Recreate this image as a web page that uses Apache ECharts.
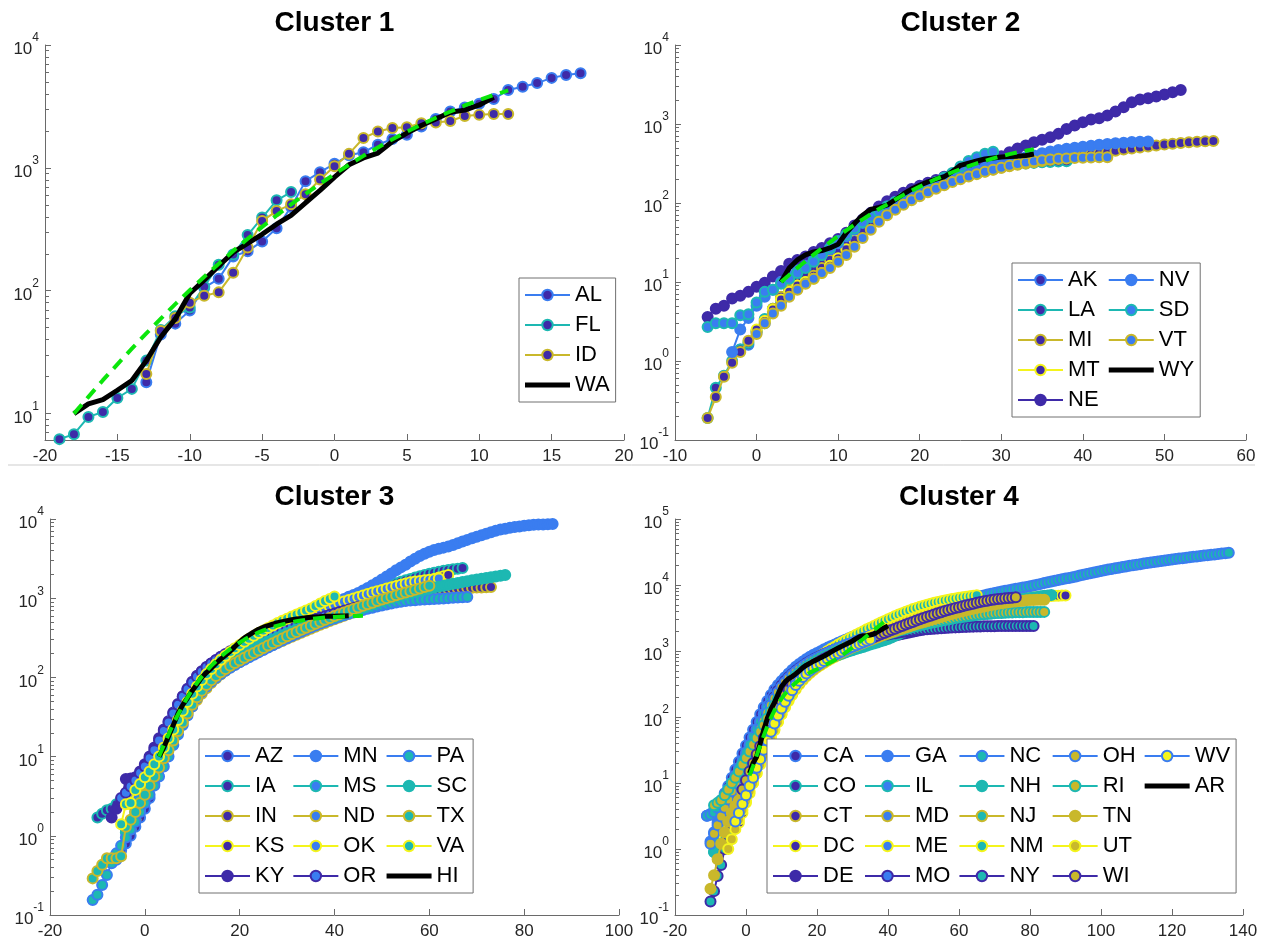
<!DOCTYPE html>
<html><head><meta charset="utf-8">
<script src="https://cdn.jsdelivr.net/npm/echarts@6/dist/echarts.min.js"></script>
<style>html,body{margin:0;padding:0;background:#fff}#c{width:1262px;height:945px}</style>
</head><body><div id="c"></div>
<script>
// ---------------- DATA ----------------
// Cluster 1
const p1Names=['AL','FL','ID'];
const p1Start=[-13,-19,-13];
const p1AL=[18,44,54,69,106,125,190,210,252,322,480,780,923,1080,1266,1340,1543,1718,1860,2175,2500,2880,3095,3330,3640,4300,4580,4900,5400,5700,5900];
const p1FL=[6.2,6.8,9.4,10.3,13.4,15.9,27,48,62,73,108,163,197,284,394,544,636];
const p1ID=[21,47,60,80,91,97,140,225,370,445,505,610,805,1030,1300,1750,1980,2110,2140,2310,2340,2410,2640,2700,2750,2750];
const p1MeanName='WA', p1MeanStart=-18;
const p1WA=[10,12,13,15.5,18.6,27,42,59,95,122,159,205,243,288,348,411,520,655,840,1060,1205,1320,1640,1920,2215,2500,2840,2950,3250,3750];
const p1FitStart=-18;
const p1Fit=[10,13.7,18.7,25.2,33.8,45,59.3,77.8,101,130,166,211,265,331,410,504,614,743,891,1060,1253,1468,1708,1968,2250,2557,2877,3219,3565,3917,4266];

// Cluster 2
const p2Names=['AK','LA','MI','MT','NE','NV','SD','VT'];
const p2Start=[-2,-6,-6,0,-6,-3,-6,0];
const p2AK=[1.4,1.6,2.3,3.0,4.2,5.5,7.5,10,13,16,19,21,22,35,48,60,72,84,96,108,120,135,150,165,180,195,210,225,240,255,270,283,295,305,315,322,328,333,337,340];
const p2LA=[0.19,0.46,0.65,1.0,1.4,1.7,2.4,3.4,4.6,6.2,8,10,12,14,17,21,26,32,40,50,60,72,85,100,115,130,145,160,175,190,205,220,235,250,265,280,292,302,310,316,322,327,331,334,337];
const p2MI=[0.19,0.35,0.63,0.95,1.3,1.8,2.4,3.2,4.6,6.5,8,9,10,12,15,19,24,30,38,47,57,68,80,92,105,118,131,145,160,175,190,205,220,235,250,265,280,292,304,316,328,340,352,364,376,388,400,415,430,445,460,475,490,505,520,535,550,563,575,587,597,605,610];
const p2MT=[2.5,3.2,4.5,6,7.5,9,10,11,13,16,20,26,34,44,56,70,85,100,115,130,145,160,175,190,205,220,240,260,280,300,315,325,335];
const p2NE=[3.6,4.6,5.0,6.2,6.7,7.5,8.7,9.8,11.7,13.8,17,19,21,24,27,31,35,42,52,62,75,90,105,120,135,150,165,180,195,215,235,255,280,305,330,360,390,440,490,535,589,631,681,750,867,955,1054,1138,1183,1279,1437,1631,1887,2039,2118,2223,2357,2521,2700];
const p2NV=[1.3,2.5,3.5,5,6.5,8,10,12,14,16,19,22,26,31,38,46,56,66,78,90,103,116,130,145,160,175,190,205,220,240,260,280,300,320,340,360,380,400,425,450,470,485,500,515,530,545,558,570,580,590,595,600];
const p2SD=[2.7,3.0,3.0,3.0,3.8,3.9,5.5,7.5,8.0,9.5,11,13,15,18,22,27,33,40,48,57,67,78,90,103,117,132,148,165,185,210,240,290,340,380,420,447];
const p2VT=[2.2,3,4,5,6.5,8,9.5,11,13,15,18,22,28,36,46,58,70,82,95,108,122,137,152,168,184,200,216,232,248,264,280,296,312,326,338,348,356,362,367,371,374,377,379,380];
const p2MeanName='WY', p2MeanStart=3;
const p2WY=[10,15,19,22,24,25,27,30,42,55,70,83,88,94,110,130,150,168,185,200,215,250,300,320,340,360,372,382,387,392,400,417];
const p2FitStart=3;
const p2Fit=[10,12.3,15.1,18.3,22.2,26.7,31.9,38.1,45,53,62,72,84,96,111,126,143,161,180,201,222,245,269,293,318,342,367,392,415,438,459,479];

// Cluster 3
const p3Names=['AZ','IA','IN','KS','KY','MN','MS','ND','OK','OR','PA','SC','TX','VA'];
const p3Start=[-6,-10,-3,-2,-7,-3,-4,-2,-3,-5,-11,-4,-11,-5];
const p3AZ=[0.5,0.65,0.8,1.0,1.3,1.7,2.2,3.0,4.5,7,11,16,22,30,40,52,65,80,95,110,125,140,155,170,185,200,215,230,250,270,290,310,330,350,370,390,410,430,455,480,505,530,560,590,620,650,680,710,740,770,800,830,860,900,940,980,1020];
const p3IA=[1.7,1.9,2.1,2.2,2.5,2.9,3.4,4.0,4.8,5.8,7,8.5,10,12,15,19,24,30,38,48,60,72,85,98,112,126,140,155,170,185,200,215,230,248,266,285,305,325,348,372,398,425,455,485,520,555,590,630,670,715,760,810,860,910,960,1010,1070,1130,1190,1260,1330,1400,1470,1540,1610,1680,1750,1820,1890,1960,2030,2100,2160,2220,2270,2320,2360,2400];
const p3IN=[1.2,1.6,2.2,3.0,4.2,6,9,13,18,24,31,39,48,58,69,80,92,104,116,128,140,152,164,176,188,200,213,226,240,255,270,286,303,321,340,360,381,403,426,450,480,510,540,570,600,635,670,705,740,770,800,850,900,950,1000,1050,1100,1140,1170,1190,1210,1225,1240,1255,1270,1285,1300,1310,1320,1330,1340,1350,1355,1360,1365,1372,1380];
const p3KS=[1.6,2.2,3.0,4.0,5.5,7.5,10,14,19,26,34,44,55,67,80,94,108,122,136,150,165,180,196,213,231,250,270,290,312,335,360,385,412,440,470,500,530,560,590,620,650,680,710,740,770,800,835,870,905,940,980,1020,1060,1110,1160,1210,1270,1330,1400,1470,1540,1610,1680,1750,1820,1890,1960];
const p3KY=[1.7,2.2,2.7,5.2,5.3,5.5,6.5,8,10,13,17,22,28,36,46,58,72,88,105,120,135,150,165,180,195,210,225,240,255,270,290,310,330,350,370,390,410,430,455,480,510,540,570];
const p3MN=[1.2,1.6,2.2,3.2,5,8,12,17,24,32,42,55,70,85,100,115,130,145,160,175,190,210,230,250,270,290,310,330,350,370,390,410,430,450,470,500,530,560,600,640,690,740,800,860,920,980,1040,1100,1160,1250,1350,1460,1580,1720,1880,2050,2250,2450,2650,2900,3150,3400,3650,3850,4050,4200,4350,4500,4700,4950,5200,5450,5700,5950,6250,6500,6800,7100,7350,7550,7750,7900,8050,8200,8350,8450,8500,8550,8600,8650];
const p3MS=[1.1,1.4,1.8,2.4,3.2,4.3,5.7,7.5,10,13,17,22,29,37,47,58,70,83,97,111,125,140,155,170,186,202,219,237,256,276,297,319,342,366,391,417,444,472,501,531,562,594,627,661,696,732,769,807,846,886,927,969,1012,1056,1101,1147,1194,1242,1291,1340];
const p3ND=[2.0,2.6,3.4,4.5,6,8,10,13,17,22,28,35,43,52,62,73,85,97,109,121,133,145,157,170,183,196,210,225,240,256,272,289,307,326,346,367,389,412,436,461,487,514,542,571,601,632,664,697,731,766,802,839,877,916,956,997,1039,1082,1126,1170];
const p3OK=[2.5,3.2,4.0,5.2,6.8,9,12,16,21,28,36,46,58,72,87,103,119,135,151,167,184,201,219,238,258,279,301,324,348,373,399,426,454,483,513,544,576,609,643,678,714,751,789,828,868,909,951,994,1038,1083,1129,1176,1224,1273,1323,1374,1426,1479,1533,1588,1620,1650,1680,1710,1740,1770];
const p3OR=[3.0,3.5,4.2,5.0,6.2,7.5,9.5,12,16,21,27,35,45,57,71,86,102,118,134,150,166,182,198,214,230,246,262,278,294,310,327,344,362,380,399,418,438,458,479,500,522,545,568,592,617,642,668,695,722,750,780];
const p3PA=[0.155,0.18,0.24,0.32,0.45,0.6,0.75,0.95,1.2,1.5,2.0,2.6,3.3,4.3,5.6,7.5,10,14,19,25,33,43,55,66,77,88,99,110,121,132,143,155,167,180,193,207,222,238,255,273,292,312,333,355,378,402,427,452,478,504,530,556,582,608,634,660,685,710,735,760,785,810,835,860,885,905,920,932,943,953,962,970,978,986,994,1002,1010,1018,1026,1035];
const p3SC=[1.2,1.5,2.0,2.7,3.6,4.8,6.3,8.3,11,14,19,25,33,43,55,68,82,96,110,124,138,152,166,180,195,210,225,240,255,270,285,300,320,340,360,380,400,420,440,460,480,505,530,555,580,610,640,670,700,730,760,800,840,880,920,960,1000,1040,1080,1120,1160,1200,1240,1280,1320,1360,1400,1440,1480,1520,1560,1600,1640,1680,1720,1760,1800,1840,1880,1920,1960];
const p3TX=[0.29,0.36,0.43,0.52,0.52,0.52,0.55,1.3,1.6,2.0,2.6,3.3,4.3,5.6,7.3,9.5,12,16,21,27,35,45,56,68,80,92,104,116,128,140,152,164,177,190,204,219,235,252,270,289,309,330,352,375,399,424,450,477,505,534,564,595,627,660,694,729,765,802,840,879,919,960,1002,1045,1089,1134,1180,1227,1275,1324,1380,1440];
const p3VA=[1.4,2.5,2.6,3.8,4.5,5.5,6.5,8,10,13,17,22,29,38,49,62,77,93,110,128,147,167,188,210,233,257,282,308,335,363,392,422,453,485,518,552,587,623,660,698,740,800,860,920,980,1050];
const p3MeanName='HI', p3MeanStart=3;
const p3HI=[10,13,18,25,35,45,55,68,82,100,115,130,150,170,190,215,245,280,315,345,375,405,430,450,470,490,505,520,535,545,555,565,575,580,585,590,590,590,595,595,600];
const p3FitStart=3;
const p3Fit=[10,14,19,26,34,44,56,70,85,102,120,140,160,182,205,228,252,276,300,324,347,370,392,412,432,450,467,483,498,512,524,535,545,554,562,569,575,580,585,589,592,595,597,600];

// Cluster 4
const p4Names=['CA','CO','CT','DC','DE','GA','IL','MD','ME','MO','NC','NH','NJ','NM','NY','OH','RI','TN','UT','WI','WV'];
const p4Start=[-11,-8,-7,-2,-5,-10,-9,-7,-6,-4,-11,-9,-6,-6,-10,-10,-9,-10,-5,-1,-3];
const p4CA=[3.2,3.4,3.8,4.5,5.5,7,9,12,16,21,28,37,49,64,84,110,140,175,215,260,305,350,400,450,500,550,600,650,700,750,800,850,900,950,1000,1060,1120,1180,1240,1300,1360,1420,1490,1560,1630,1700,1780,1860,1940,2020,2100,2190,2280,2370,2460,2550,2650,2750,2850,2950,3050,3150,3250,3350,3450,3550,3650,3750,3850,3950];
const p4CO=[2.8,3.5,4.5,6,8,10,13,17,22,29,38,50,65,85,110,140,175,215,260,305,350,395,440,485,530,575,620,665,710,755,800,845,890,940,990,1040,1090,1140,1190,1240,1290,1340,1390,1440,1490,1540,1590,1640,1700,1760,1820,1880,1940,2000,2060,2120,2180,2240,2300,2360,2420];
const p4CT=[1.0,1.4,2,2.8,3.8,5,6.5,8.5,11,15,20,27,36,48,63,82,105,135,170,210,255,300,350,400,450,500,550,600,650,700,750,800,850,900,950,1000,1060,1120,1180,1240,1300,1360,1420,1490,1560,1630,1700,1770,1840,1910,1980,2050,2120,2190,2260,2330,2400,2470,2540,2610,2680,2750,2820,2890,2960,3030,3100,3170];
const p4DC=[2.5,3.5,5,7,10,14,20,28,38,50,65,85,110,140,175,215,260,310,360,410,460,510,560,610,660,710,760,810,860,910,960,1010,1060,1120,1180,1240,1300,1370,1440,1510,1580,1660,1740,1820,1900,1990,2080,2170,2260,2360,2460,2560,2660,2770,2880,2990,3100,3220,3340,3460,3580,3700,3830,3960,4090,4220,4350,4480,4610,4740,4870,5000,5130,5260,5390,5520,5650,5780,5910,6040,6170,6300,6400,6500,6580,6650,6720,6780,6830,6870,6900,6930,6950];
const p4DE=[2,2.8,3.8,5.2,7,9.5,13,18,25,35,48,65,88,118,155,200,250,300,350,400,450,500,550,600,650,700,750,800,850,900,950,1000,1060,1120,1180,1240,1300,1360,1420,1480,1540,1600,1660,1720,1780,1840];
const p4GA=[1.3,1.8,2.5,3.4,4.6,6.2,8.3,11,15,20,27,36,48,64,85,110,145,185,230,280,335,395,455,515,575,635,695,755,815,875,935,995,1060,1125,1190,1260,1330,1400,1480,1560,1640,1720,1810,1900,1990,2080,2180,2280,2380,2480,2580,2680,2780,2880,2980,3080];
const p4IL=[0.9,1.2,1.6,2.2,3,4,5.3,7,9.3,12,16,21,28,37,49,64,84,110,140,175,215,260,310,360,410,460,510,560,610,660,710,760,810,860,910,960,1010,1070,1130,1190,1250,1310,1380,1450,1520,1590,1660,1740,1820,1900,1980,2060,2140,2220,2300,2390,2480,2570,2660,2750,2840,2930,3020,3110,3200];
const p4MD=[1.6,2.2,3,4,5.3,7,9.3,12,16,21,28,37,49,64,84,110,140,175,215,260,305,350,400,450,500,550,600,650,700,750,800,855,910,965,1020,1080,1140,1200,1260,1320,1390,1460,1530,1600,1680,1760,1840,1920,2010,2100,2190,2280,2370,2460,2560,2660,2760,2860,2960,3060,3160,3260,3360,3460,3560,3660,3760,3860];
const p4ME=[2,2.7,3.6,4.8,6.4,8.5,11,15,20,27,36,48,64,85,110,140,180,225,275,330,385,440,500,560,620,680,740,800,860,920,980,1050,1120,1200,1280,1360,1450,1540,1640,1740,1840,1950,2060,2180,2300,2420,2550,2680,2820,2960,3100,3250,3400,3550,3700,3850,4000,4150,4300,4450,4600,4750,4900,5000,5100];
const p4MO=[3,4,5.5,7.5,10,13,17,23,31,42,56,74,96,122,152,186,224,266,312,360,410,460,510,560,610,660,710,760,810,860,910,960,1010,1060,1110,1160,1210,1260,1310,1360,1410,1460,1510,1560,1610,1660,1710,1760,1810,1860,1910,1960,2010,2060,2110];
const p4NC=[3.2,3.3,3.6,4.2,5,6.3,8,10,13,17,22,29,38,50,65,85,110,140,175,215,260,310,360,410,460,510,560,610,660,710,760,810,860,910,960,1010,1070,1130,1200,1270,1340,1420,1500,1580,1670,1760,1860,1960,2070,2180,2300,2420,2550,2680,2820,2960,3100,3250,3400,3560,3720,3880,4040,4200,4370,4540,4710,4880,5060,5240,5420,5600,5790,5980,6170,6360,6550,6750,6950,7150,7350,7550,7750,7950,8150,8350,8550,8750,8950,9150,9350,9600,9850,10100,10400,10700,11000,11300,11600,11900,12200,12500,12800,13100,13500,13900,14300,14700,15100,15500,15900,16300,16700,17100,17500,17900,18300,18700,19100,19500,19900,20300,20700,21100,21500,21900,22300,22700,23100,23500,23900,24300,24700,25100,25500,25900,26300,26700,27100,27500,27900,28300,28700,29100,29500,29900,30300,30700];
const p4NH=[0.9,1.3,2,3,4.5,6.5,9,12,16,21,28,37,48,62,80,100,125,155,190,230,270,310,350,390,430,470,510,550,590,630,670,710,750,790,830,870,910,950,990,1030,1070,1110,1150,1200,1250,1300,1350,1400,1460,1520,1600,1700,1800,1900,2000,2100,2200,2300,2400,2500,2650,2800,2950,3100,3250,3400,3550,3700,3850,4000,4150,4300,4400,4500,4600,4700,4800,4900,5000,5100,5250,5400,5550,5700,5850,5950,6050,6150,6250,6350,6450,6600,6750,6850,6950,7050];
const p4NJ=[1.8,2.4,3.2,4.3,5.8,7.8,10.5,14,19,25,33,44,58,76,100,130,165,205,250,300,350,400,450,500,550,600,650,700,750,800,850,900,950,1000,1060,1120,1180,1240,1300,1370,1440,1510,1580,1650,1730,1810,1890,1970,2050,2140,2230,2320,2410,2500,2600,2700,2800,2900,3000,3100,3200,3300,3400];
const p4NM=[1.5,2,2.8,3.8,5.2,7,9.5,13,18,25,34,46,62,82,108,140,180,225,275,330,390,450,510,575,640,710,780,850,920,1000,1080,1160,1250,1340,1440,1540,1650,1760,1880,2000,2130,2260,2400,2550,2700,2860,3020,3200,3380,3560,3740,3930,4120,4310,4500,4680,4860,5030,5200,5370,5530,5690,5840,5990,6130,6270,6400,6530,6650,6770,6880,7000];
const p4NY=[0.16,0.23,0.39,0.57,1.0,1.6,2.4,3.9,5.9,8.9,12.6,18,26,38,55,80,110,150,200,250,300,350,400,450,500,550,600,650,700,750,800,850,900,950,1000,1050,1100,1150,1200,1250,1300,1350,1400,1450,1500,1550,1600,1650,1700,1740,1780,1820,1860,1900,1940,1970,2000,2030,2060,2090,2110,2130,2150,2170,2190,2210,2230,2250,2265,2280,2295,2310,2320,2330,2340,2350,2360,2365,2370,2375,2380,2385,2388,2390,2392,2394,2396,2398,2400,2400,2400,2400];
const p4OH=[1.2,1.7,2.3,3.1,4.2,5.6,7.5,10,13,17,22,29,38,50,66,87,115,150,190,235,285,335,385,435,485,535,585,635,685,735,785,835,885,940,995,1050,1110,1170,1230,1290,1350,1420,1490,1560,1630,1700,1780,1860,1940,2020,2100,2190,2280,2370,2460,2560,2660,2760,2860,2960,3060,3170,3280,3390,3500,3610,3720,3830,3940,4050,4160,4270,4380];
const p4RI=[4.6,5,5.5,6.5,8,10,12,15,19,24,30,38,48,60,75,95,120,150,185,225,270,320,370,420,470,520,570,620,670,720,770,820,870,920,970,1020,1070,1120,1170,1220,1270,1320,1380,1440,1500,1560,1620,1680,1750,1820,1890,1960,2030,2100,2170,2240,2310,2380,2450,2520,2590,2660,2730,2800,2870,2940,3010,3080,3150,3220,3280,3340,3400,3450,3500,3550,3600,3640,3680,3720,3750,3780,3800,3820,3840,3855,3870,3880,3890,3895,3900,3905,3910,3915];
const p4TN=[0.25,0.4,0.7,1.2,1.8,2.6,3.5,4.5,5.5,7,9,12,16,21,28,37,48,62,80,100,125,155,190,230,275,325,375,425,475,525,575,625,675,725,780,835,890,950,1010,1070,1130,1190,1250,1320,1390,1460,1530,1600,1680,1760,1840,1920,2000,2090,2180,2270,2360,2460,2560,2660,2760,2860,2970,3080,3190,3300,3410,3530,3650,3770,3890,4010,4130,4250,4370,4490,4610,4730,4850,4960,5070,5180,5280,5380,5470,5560,5640,5720,5790,5850,5900,5940,5970,5990,6000];
const p4UT=[1,1.4,2,2.8,3.9,5.4,7.5,10,14,19,26,35,47,63,84,110,145,185,230,280,335,390,445,500,555,610,665,720,775,830,890,950,1010,1080,1150,1220,1300,1380,1460,1550,1640,1740,1840,1950,2060,2180,2300,2430,2560,2700,2840,2980,3120,3260,3400,3540,3680,3820,3960,4100,4240];
const p4WI=[8,11,15,20,27,36,48,64,85,110,140,175,215,260,310,360,410,460,510,560,610,660,710,760,810,860,910,960,1010,1070,1130,1190,1250,1320,1390,1460,1540,1620,1700,1790,1880,1980,2080,2180,2290,2400,2520,2640,2760,2890,3020,3150,3290,3430,3570,3720,3870,4020,4170,4320,4470,4620,4770,4920,5070,5220,5370,5510,5650,5780,5900,6010,6110,6200,6280,6350,6420,6500];
const p4WV=[2.6,3.5,4.8,6.5,9,12,17,23,32,44,60,80,105,135,170,210,255,305,355,405,455,505,555,605,655,705,760,815,870,925,980,1040,1100,1160,1220,1290,1360,1430,1500];
const p4MeanName='AR', p4MeanStart=1;
const p4AR=[14,20,25,40,63,95,130,165,220,290,340,380,410,450,500,560,610,650,700,740,790,840,900,970,1040,1110,1180,1250,1330,1420,1540,1650,1700,1720,1750,1800,1950,2100,2250,2400];
const p4FitStart=1;
const p4Fit=[13,18,26,37,52,72,97,125,155,190,225,260,295,330,365,400,435,470,500,530,565,600,640,680,730,790,860,940,1030,1130,1250,1380,1520,1680,1860,2060,2280,2520,2780,3100];

// Axis ranges / tick labels
const xMin=[-20,-10,-20,-20], xMax=[20,60,100,140], xStep=[5,10,20,20];
const yMin=[6.1,0.1,0.1,0.1], yMax=[1e4,1e4,1e4,1e5];
const yMajor=[[10,100,1000,10000],[0.1,1,10,100,1000,10000],[0.1,1,10,100,1000,10000],[0.1,1,10,100,1000,10000,100000]];
const titles=['Cluster 1','Cluster 2','Cluster 3','Cluster 4'];

// ---------------- STYLE / LAYOUT ----------------
const BLUE='#3a7df0',TEAL='#1db8b2',OLIVE='#c9b82b',YEL='#f4f41c',PUR='#3e2aa8';
const EDGES=[BLUE,TEAL,OLIVE,YEL,PUR];
const FACES=[PUR,BLUE,TEAL,OLIVE,YEL];
const FONT="'Liberation Sans', Arial, Helvetica, sans-serif";
const AX='#6a6a6a', TXT='#262626';
const grids=[
  {left:45,top:45,width:579,height:395},
  {left:675,top:45,width:571,height:395},
  {left:50,top:519,width:569,height:396},
  {left:675,top:519,width:568,height:396}
];
const legendPos=[{left:519,top:278},{left:1012,top:263},{left:199,top:739},{left:767,top:739}];

const panels=[
  {names:p1Names,starts:p1Start,vals:[p1AL,p1FL,p1ID],mean:[p1MeanName,p1MeanStart,p1WA],fit:[p1FitStart,p1Fit]},
  {names:p2Names,starts:p2Start,vals:[p2AK,p2LA,p2MI,p2MT,p2NE,p2NV,p2SD,p2VT],mean:[p2MeanName,p2MeanStart,p2WY],fit:[p2FitStart,p2Fit]},
  {names:p3Names,starts:p3Start,vals:[p3AZ,p3IA,p3IN,p3KS,p3KY,p3MN,p3MS,p3ND,p3OK,p3OR,p3PA,p3SC,p3TX,p3VA],mean:[p3MeanName,p3MeanStart,p3HI],fit:[p3FitStart,p3Fit]},
  {names:p4Names,starts:p4Start,vals:[p4CA,p4CO,p4CT,p4DC,p4DE,p4GA,p4IL,p4MD,p4ME,p4MO,p4NC,p4NH,p4NJ,p4NM,p4NY,p4OH,p4RI,p4TN,p4UT,p4WI,p4WV],mean:[p4MeanName,p4MeanStart,p4AR],fit:[p4FitStart,p4Fit]}
];

function pts(x0,ys){return ys.map((y,i)=>[x0+i,y]);}
function minorVals(lo,hi){const r=[];for(let d=0.01;d<=hi;d*=10){for(let k=2;k<=9;k++){const v=+(k*d).toPrecision(3);if(v>lo&&v<hi)r.push(v);}}return r;}

const series=[],xAxis=[],yAxis=[],legend=[],graphic=[];
panels.forEach((p,g)=>{
  p.names.forEach((n,i)=>{
    const e=EDGES[i%5],f=FACES[Math.floor(i/5)];
    series.push({name:n,type:'line',xAxisIndex:g,yAxisIndex:2*g,data:pts(p.starts[i],p.vals[i]),z:10+i,
      symbol:'circle',symbolSize:10,showSymbol:true,clip:false,silent:true,animation:false,
      lineStyle:{color:e,width:2},itemStyle:{color:f,borderColor:e,borderWidth:2},emphasis:{disabled:true}});
  });
  series.push({name:p.mean[0],type:'line',xAxisIndex:g,yAxisIndex:2*g,data:pts(p.mean[1],p.mean[2]),z:60,
    symbol:'none',showSymbol:false,clip:false,silent:true,animation:false,
    lineStyle:{color:'#000',width:5},itemStyle:{color:'#000'},emphasis:{disabled:true}});
  series.push({name:'fit'+(g+1),type:'line',xAxisIndex:g,yAxisIndex:2*g,data:pts(p.fit[0],p.fit[1]),z:61,
    symbol:'none',showSymbol:false,clip:false,silent:true,animation:false,
    lineStyle:{color:'#0be60b',width:4,type:[12,8]},itemStyle:{color:'#0be60b'},emphasis:{disabled:true}});

  xAxis.push({type:'value',gridIndex:g,min:xMin[g],max:xMax[g],interval:xStep[g],
    axisLine:{show:true,onZero:false,lineStyle:{color:AX,width:1}},
    axisTick:{show:true,inside:true,length:6,lineStyle:{color:AX}},
    axisLabel:{color:TXT,fontSize:17,fontFamily:FONT,margin:8,showMinLabel:true,showMaxLabel:true,interval:0},
    splitLine:{show:false}});
  yAxis.push({type:'log',logBase:10,gridIndex:g,min:yMin[g],max:yMax[g],position:'left',
    axisLine:{show:true,onZero:false,lineStyle:{color:AX,width:1}},
    axisTick:{show:true,inside:true,length:6,lineStyle:{color:AX},customValues:yMajor[g]},
    axisLabel:{customValues:yMajor[g],margin:6,fontFamily:FONT,
      formatter:v=>'{b|10}{s|'+Math.round(Math.log10(v))+'}',
      rich:{b:{fontSize:17,lineHeight:26,verticalAlign:'bottom',color:TXT,fontFamily:FONT},
            s:{fontSize:12,lineHeight:12,verticalAlign:'top',color:TXT,fontFamily:FONT}}},
    splitLine:{show:false}});
  yAxis.push({type:'log',logBase:10,gridIndex:g,min:yMin[g],max:yMax[g],position:'left',offset:0,
    axisLine:{show:false,onZero:false},axisLabel:{show:false},splitLine:{show:false},
    axisTick:{show:true,inside:true,length:4,lineStyle:{color:AX},customValues:minorVals(yMin[g],yMax[g])}});

  const ld=p.names.slice();
  ld.push({name:p.mean[0],icon:'path://M0,0H45V5H0Z'});
  legend.push(Object.assign({data:ld,orient:'vertical',height:150,itemWidth:45,itemHeight:13,itemGap:8,z:200,
    padding:[6,6,6,5],borderColor:'#707070',borderWidth:1,borderRadius:0,backgroundColor:'#fff',
    selectedMode:false,textStyle:{fontSize:22,color:'#000',fontFamily:FONT}},legendPos[g]));

  graphic.push({type:'text',x:grids[g].left+grids[g].width/2,y:grids[g].top-22,silent:true,z:200,
    style:{text:titles[g],font:'bold 28px '+FONT,fill:'#000',align:'center',verticalAlign:'middle'}});
});
graphic.push({type:'line',silent:true,z:200,shape:{x1:8,y1:465,x2:1255,y2:465},style:{stroke:'#cdcdcd',lineWidth:1}});

const chart=echarts.init(document.getElementById('c'),null,{renderer:'canvas'});
chart.setOption({
  animation:false,backgroundColor:'#fff',textStyle:{fontFamily:FONT},
  grid:grids.map(g=>Object.assign({containLabel:false,outerBoundsMode:'none'},g)),
  xAxis,yAxis,series,legend,graphic
});
</script></body></html>
